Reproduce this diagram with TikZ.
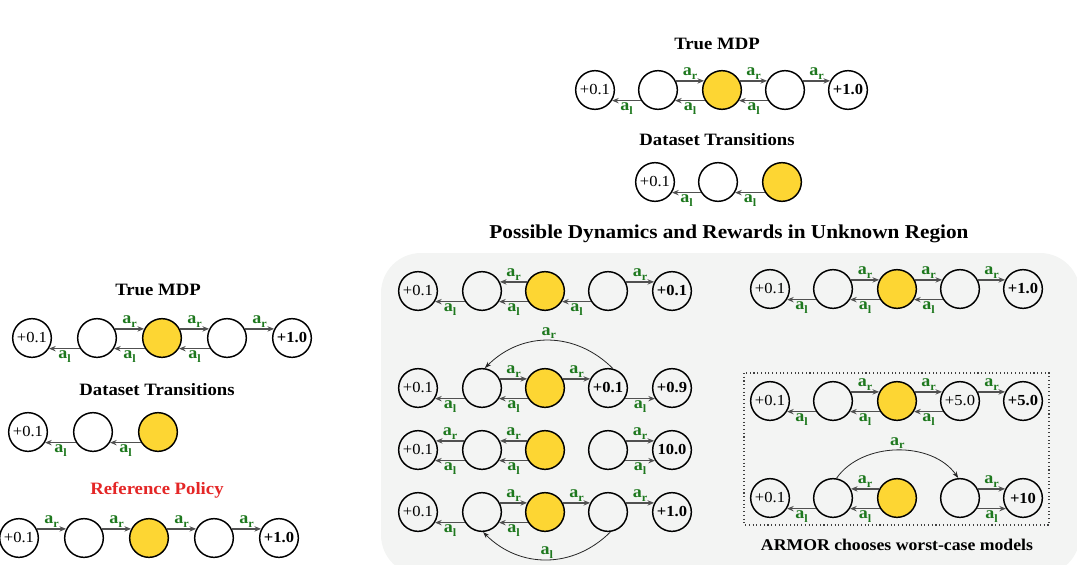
\documentclass[tikz,border=0pt]{standalone}
\usepackage{fontspec}
\setmainfont{Liberation Serif}[FakeStretch=1.08]
\usetikzlibrary{arrows.meta}
\definecolor{stgold}{RGB}{253,214,51}
\definecolor{lblgreen}{RGB}{30,120,30}
\definecolor{arrgray}{RGB}{80,80,80}
\definecolor{panelgray}{RGB}{243,244,243}
\definecolor{refred}{RGB}{228,38,38}
\newcommand{\aR}{a\raisebox{-0.5ex}{\fontsize{8.5}{9}\selectfont r}}
\newcommand{\aL}{a\raisebox{-0.5ex}{\fontsize{8.5}{9}\selectfont l}}
\tikzset{
  st/.style={circle, draw=black, line width=1.1pt, minimum size=29pt, inner sep=0pt, font=\fontsize{11.5}{12}\selectfont},
  gold/.style={st, fill=stgold},
  bst/.style={st, font=\fontsize{11.5}{12}\selectfont\bfseries},
  arr/.style={draw=arrgray, line width=1.05pt, -{Stealth[length=5pt,width=4pt]}},
  arrc/.style={draw=black!85, line width=0.6pt, -{Stealth[length=5pt,width=3.5pt]}},
  lab/.style={text=lblgreen, font=\fontsize{12.5}{13}\selectfont\bfseries, inner sep=0.8pt},
  ttl/.style={font=\fontsize{13}{15}\selectfont\bfseries},
}
% arrows between neighbours: #1 = left node, #2 = right node
\newcommand{\rup}[2]{\draw[arr] (#1.27) -- node[lab,above]{\aR} (#2.153);}
\newcommand{\lup}[2]{\draw[arr] (#2.153) -- node[lab,above]{\aR} (#1.27);}
\newcommand{\llow}[2]{\draw[arr] (#2.-148) -- node[lab,below]{\aL} (#1.-32);}
\newcommand{\rlow}[2]{\draw[arr] (#1.-32) -- node[lab,below]{\aL} (#2.-148);}
\begin{document}
\begin{tikzpicture}[x=0.75pt,y=-0.75pt]
\useasboundingbox (0,0) rectangle (1077,564);
\clip (0,0) rectangle (1077,564);

% ---------------- left panel ----------------
\node[ttl] (lt1) at (158,290) {True MDP};
\node[st]   (L1) at (32,338) {+0.1};
\node[st]   (L2) at (97,338) {};
\node[gold] (L3) at (162,338) {};
\node[st]   (L4) at (227,338) {};
\node[bst]  (L5) at (292,338) {+1.0};
\rup{L2}{L3} \rup{L3}{L4} \rup{L4}{L5}
\llow{L1}{L2} \llow{L2}{L3} \llow{L3}{L4}

\node[ttl] (lt2) at (157,390) {Dataset Transitions};
\node[st]   (D1) at (28,432) {+0.1};
\node[st]   (D2) at (93,432) {};
\node[gold] (D3) at (158,432) {};
\llow{D1}{D2} \llow{D2}{D3}

\node[ttl, text=refred] (lt3) at (157,490) {Reference Policy};
\node[st]   (R1) at (19,538) {+0.1};
\node[st]   (R2) at (84,538) {};
\node[gold] (R3) at (149,538) {};
\node[st]   (R4) at (214,538) {};
\node[bst]  (R5) at (279,538) {+1.0};
\rup{R1}{R2} \rup{R2}{R3} \rup{R3}{R4} \rup{R4}{R5}

% ---------------- top middle ----------------
\node[ttl] (tt1) at (717,44) {True MDP};
\node[st]   (T1) at (595,90) {+0.1};
\node[st]   (T2) at (658,90) {};
\node[gold] (T3) at (722,90) {};
\node[st]   (T4) at (785,90) {};
\node[bst]  (T5) at (848,90) {+1.0};
\rup{T2}{T3} \rup{T3}{T4} \rup{T4}{T5}
\llow{T1}{T2} \llow{T2}{T3} \llow{T3}{T4}

\node[ttl] (tt2) at (717,140) {Dataset Transitions};
\node[st]   (S1) at (655,182) {+0.1};
\node[st]   (S2) at (718,182) {};
\node[gold] (S3) at (782,182) {};
\llow{S1}{S2} \llow{S2}{S3}

\node[ttl, font=\fontsize{14.75}{16}\selectfont\bfseries] (tt3) at (729,234) {Possible Dynamics and Rewards in Unknown Region};

% ---------------- gray panel ----------------
\fill[panelgray, rounded corners=30pt] (381,253) rectangle (1080,575);

% row A
\node[st]   (gA1) at (418,291) {+0.1};
\node[st]   (gA2) at (482,291) {};
\node[gold] (gA3) at (545,291) {};
\node[st]   (gA4) at (608,291) {};
\node[bst]  (gA5) at (672,291) {+0.1};
\lup{gA2}{gA3} \llow{gA2}{gA3} \llow{gA1}{gA2} \llow{gA3}{gA4} \rup{gA4}{gA5}

% row B
\node[st]   (gB1) at (418,388) {+0.1};
\node[st]   (gB2) at (482,388) {};
\node[gold] (gB3) at (545,388) {};
\node[bst]  (gB4) at (608,388) {+0.1};
\node[bst]  (gB5) at (672,388) {+0.9};
\rup{gB2}{gB3} \llow{gB2}{gB3} \llow{gB1}{gB2} \rup{gB3}{gB4} \rlow{gB4}{gB5}
\draw[arrc] (gB4.76) to[out=135,in=45,looseness=1.05] node[lab,above]{\aR} (gB2.82);

% row C
\node[st]   (gC1) at (418,450) {+0.1};
\node[st]   (gC2) at (482,450) {};
\node[gold] (gC3) at (545,450) {};
\node[st]   (gC4) at (608,450) {};
\node[bst]  (gC5) at (672,450) {10.0};
\lup{gC1}{gC2} \llow{gC1}{gC2} \lup{gC2}{gC3} \llow{gC2}{gC3} \rup{gC4}{gC5} \rlow{gC4}{gC5}

% row D
\node[st]   (gD1) at (418,512) {+0.1};
\node[st]   (gD2) at (482,512) {};
\node[gold] (gD3) at (545,512) {};
\node[st]   (gD4) at (608,512) {};
\node[bst]  (gD5) at (672,512) {+1.0};
\llow{gD1}{gD2} \rup{gD2}{gD3} \llow{gD2}{gD3} \rup{gD3}{gD4} \rup{gD4}{gD5}
\draw[arrc] (gD4.-83) to[out=-135,in=-45,looseness=1.05] node[lab,above]{\aL} (gD2.-87);

% row E
\node[st]   (gE1) at (770,289) {+0.1};
\node[st]   (gE2) at (833,289) {};
\node[gold] (gE3) at (897,289) {};
\node[st]   (gE4) at (960,289) {};
\node[bst]  (gE5) at (1023,289) {+1.0};
\rup{gE2}{gE3} \rup{gE3}{gE4} \rup{gE4}{gE5}
\llow{gE1}{gE2} \llow{gE2}{gE3} \llow{gE3}{gE4}

% dotted box
\draw[dotted, line width=0.8pt, draw=black!75] (744,373) rectangle (1049,525);

% row F
\node[st]   (gF1) at (770,401) {+0.1};
\node[st]   (gF2) at (833,401) {};
\node[gold] (gF3) at (897,401) {};
\node[st]   (gF4) at (960,401) {+5.0};
\node[bst]  (gF5) at (1023,401) {+5.0};
\rup{gF2}{gF3} \rup{gF3}{gF4} \rup{gF4}{gF5}
\llow{gF1}{gF2} \llow{gF2}{gF3} \llow{gF3}{gF4}

% row G
\node[st]   (gG1) at (770,498) {+0.1};
\node[st]   (gG2) at (833,498) {};
\node[gold] (gG3) at (897,498) {};
\node[st]   (gG4) at (960,498) {};
\node[bst]  (gG5) at (1023,498) {+10};
\lup{gG2}{gG3} \llow{gG2}{gG3} \llow{gG1}{gG2} \rup{gG4}{gG5} \rlow{gG4}{gG5}
\draw[arrc] (gG2.80) to[out=55,in=125,looseness=0.95] node[lab,above]{\aR} (gG4.95);

\node[ttl, font=\fontsize{12.3}{14}\selectfont\bfseries] (armor) at (897,545) {ARMOR chooses worst-case models};
\end{tikzpicture}
\end{document}
